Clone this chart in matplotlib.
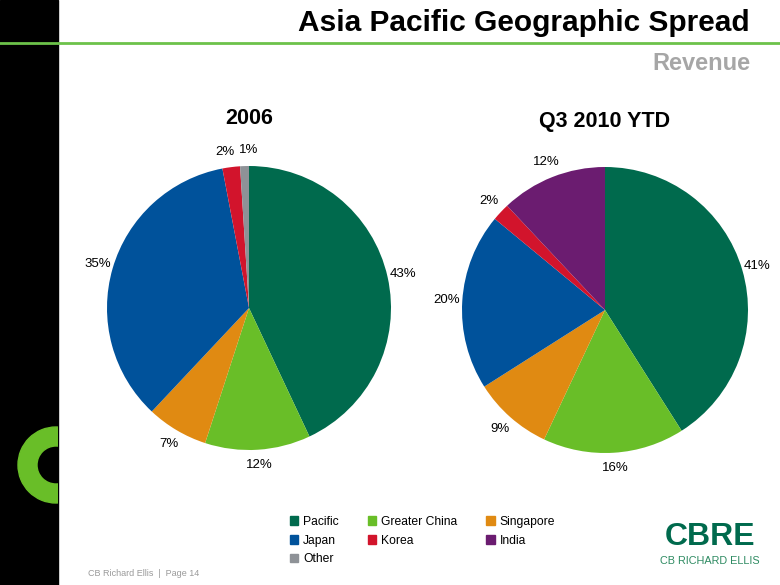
import matplotlib
matplotlib.use("Agg")
import matplotlib.pyplot as plt
from matplotlib.patches import Rectangle, Wedge, Patch

plt.rcParams['font.family'] = ['Liberation Sans', 'DejaVu Sans']

# data
regions = ['Pacific', 'Greater China', 'Singapore', 'Japan', 'Korea', 'India', 'Other']
colors = {'Pacific': '#006A4D', 'Greater China': '#69BE28', 'Singapore': '#E08A12',
          'Japan': '#00529B', 'Korea': '#D2142C', 'India': '#6B1C70', 'Other': '#8E9297'}

regions_2006 = ['Pacific', 'Greater China', 'Singapore', 'Japan', 'Korea', 'Other']
share_2006 = [43, 12, 7, 35, 2, 1]

regions_2010 = ['Pacific', 'Greater China', 'Singapore', 'Japan', 'Korea', 'India']
share_2010 = [41, 16, 9, 20, 2, 12]

W, H = 780, 585
fig = plt.figure(figsize=(W / 100, H / 100), dpi=100)

# background decoration in pixel coordinates
bg = fig.add_axes([0, 0, 1, 1], zorder=0)
bg.set_xlim(0, W)
bg.set_ylim(H, 0)
bg.axis('off')
bar = Rectangle((0, 0), 58, H, color='black')
bg.add_patch(bar)
ring = Wedge((56, 465), 38, 0, 360, width=19, color='#69BE28')
bg.add_patch(ring)
ring.set_clip_path(bar)
bg.plot([0, W], [43, 43], color='#6CC24A', lw=2)

bg.text(750, 23, 'Asia Pacific Geographic Spread', ha='right', va='center',
        fontsize=21.5, fontweight='bold', color='black')
bg.text(750, 64, 'Revenue', ha='right', va='center',
        fontsize=17, fontweight='bold', color='#A6A6A6')
bg.text(88, 573, 'CB Richard Ellis  |  Page 14', ha='left', va='center',
        fontsize=6.5, color='#9A9A9A')
bg.text(710, 537, 'CBRE', ha='center', va='center', fontsize=23,
        fontweight='bold', color='#006A4D')
bg.text(710, 561, 'CB RICHARD ELLIS', ha='center', va='center', fontsize=7.8,
        color='#2E8B62')


def draw_pie(cx, cy, r, labels, values, title, title_y, nudge=None):
    ax = fig.add_axes([(cx - r) / W, (H - cy - r) / H, 2 * r / W, 2 * r / H], zorder=1)
    wedges, texts = ax.pie(values, colors=[colors[k] for k in labels], startangle=90,
                           counterclock=False, labels=['%d%%' % v for v in values],
                           labeldistance=1.11, textprops={'fontsize': 9.5},
                           wedgeprops={'linewidth': 0})
    for i, t in enumerate(texts):
        t.set_ha('center')
        t.set_va('center')
        if nudge and i in nudge:
            x, y = t.get_position()
            t.set_position((x + nudge[i], y))
    ax.set_xlim(-1, 1)
    ax.set_ylim(-1, 1)
    ax.set_aspect('equal')
    ax.axis('off')
    bg.text(cx, title_y, title, ha='center', va='center', fontsize=15.5, fontweight='bold')


draw_pie(249, 308, 142, regions_2006, share_2006, '2006', 118, nudge={4: -0.03, 5: 0.03})
draw_pie(605, 310, 143, regions_2010, share_2010, 'Q3 2010 YTD', 121)

# legend, filled row by row like the original
order = ['Pacific', 'Japan', 'Other', 'Greater China', 'Korea', 'Singapore', 'India']
handles = [Patch(color=colors[k], label=k) for k in order]
fig.legend(handles=handles, ncol=3, frameon=False, fontsize=8.7,
           loc='upper left', bbox_to_anchor=(279 / W, 1 - 505 / H),
           handlelength=0.7, handleheight=0.7, handletextpad=0.4,
           columnspacing=2.4, labelspacing=0.55)

fig.savefig('out.png', dpi=100)
